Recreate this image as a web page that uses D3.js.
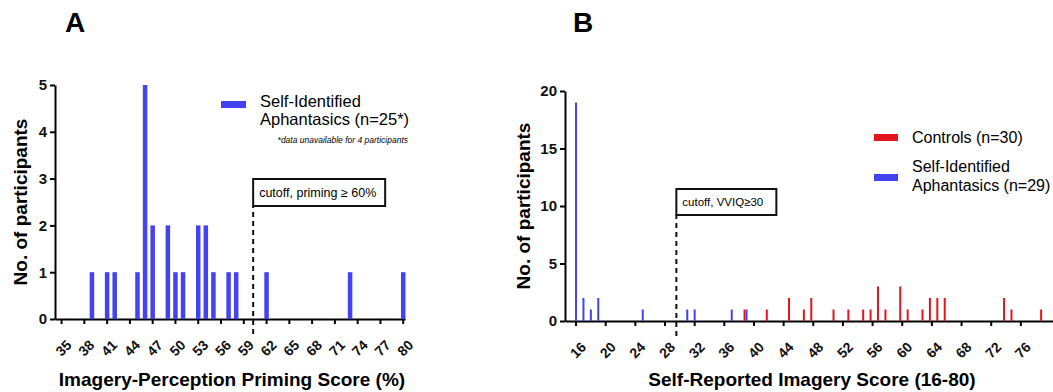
<!DOCTYPE html>
<html>
<head>
<meta charset="utf-8">
<script src="https://cdn.jsdelivr.net/npm/d3@7"></script>
<style>
  body { margin: 0; background: #fff; }
  svg { font-family: "Liberation Sans", Arial, sans-serif; }
</style>
</head>
<body>
<div class="figure"></div>
<script>
// panel A - priming score histogram
const primingScores = [39, 41, 42, 45, 46, 47, 49, 50, 51, 53, 54, 55, 57, 58, 62, 73, 80];
const primingCounts = [1, 1, 1, 1, 5, 2, 2, 1, 1, 2, 2, 1, 1, 1, 1, 1, 1];
const primingTicks = [35, 38, 41, 44, 47, 50, 53, 56, 59, 62, 65, 68, 71, 74, 77, 80];
const primingYTicks = [0, 1, 2, 3, 4, 5];
const primingCutoff = 60.3;

// panel B - VVIQ histogram
const controlScores = [39, 42, 45, 47, 48, 51, 53, 55, 56, 57, 58, 60, 61, 63, 64, 65, 66, 74, 75, 79];
const controlCounts = [1, 1, 2, 1, 2, 1, 1, 1, 1, 3, 1, 3, 1, 1, 2, 2, 2, 2, 1, 1];
const aphantasicScores = [16, 17, 18, 19, 25, 31, 32, 37, 39];
const aphantasicCounts = [19, 2, 1, 2, 1, 1, 1, 1, 1];
const vviqTicks = [16, 20, 24, 28, 32, 36, 40, 44, 48, 52, 56, 60, 64, 68, 72, 76];
const vviqYTicks = [0, 5, 10, 15, 20];
const vviqCutoff = 29.6;

const BLUE = '#4343f2';
const RED = '#e3161f';

const svg = d3.select('.figure')
  .append('svg')
  .attr('width', 1053)
  .attr('height', 392);

function zip(xs, ys) {
  return xs.map((x, i) => ({x: x, y: ys[i]}));
}

function styleXAxis(g) {
  g.select('.domain').attr('stroke-width', 2);
  g.selectAll('.tick line').attr('stroke-width', 2);
  g.selectAll('.tick text')
    .attr('x', 0)
    .attr('y', 0)
    .attr('dy', 0)
    .attr('text-anchor', 'end')
    .attr('transform', 'translate(11,27) rotate(-45)')
    .style('font-size', '14px')
    .style('font-weight', 'bold')
    .attr('fill', '#111');
}

function styleYAxis(g) {
  g.select('.domain').attr('stroke-width', 2);
  g.selectAll('.tick line').attr('stroke-width', 2);
  g.selectAll('.tick text')
    .style('font-size', '15px')
    .style('font-weight', 'bold')
    .attr('fill', '#111');
}

function drawPanel(opts) {
  const g = svg.append('g');

  g.append('g')
    .attr('transform', `translate(0,${opts.y.range()[0]})`)
    .call(d3.axisBottom(opts.x).tickValues(opts.xTicks).tickSize(5).tickSizeOuter(0).tickFormat(d3.format('d')))
    .call(styleXAxis);

  g.append('g')
    .attr('transform', `translate(${opts.x.range()[0]},0)`)
    .call(d3.axisLeft(opts.y).tickValues(opts.yTicks).tickSize(5).tickSizeOuter(0).tickPadding(3).tickFormat(d3.format('d')))
    .call(styleYAxis);

  // panel letter
  g.append('text')
    .attr('x', opts.letterX)
    .attr('y', 32)
    .style('font-size', '28px')
    .style('font-weight', 'bold')
    .text(opts.letter);

  g.append('text')
    .attr('text-anchor', 'middle')
    .attr('transform', `translate(${opts.yLabelX},${(opts.y.range()[0] + opts.y.range()[1]) / 2}) rotate(-90)`)
    .style('font-size', '19px')
    .style('font-weight', 'bold')
    .text('No. of participants');

  g.append('text')
    .attr('text-anchor', 'middle')
    .attr('x', opts.xLabelX)
    .attr('y', 386)
    .style('font-size', '19px')
    .style('font-weight', 'bold')
    .text(opts.xLabel);

  return g;
}

function drawBars(g, x, y, data, color, width, offset) {
  g.append('g')
    .selectAll('rect')
    .data(data)
    .join('rect')
    .attr('x', d => x(d.x) - width / 2 + offset)
    .attr('y', d => y(d.y))
    .attr('width', width)
    .attr('height', d => y(0) - y(d.y))
    .attr('fill', color);
}

function drawCutoff(g, x, y, value, boxTop, boxW, boxH, label, fontsize) {
  const cx = x(value);
  g.append('line')
    .attr('x1', cx).attr('x2', cx)
    .attr('y1', y(0) + 15).attr('y2', boxTop + boxH)
    .attr('stroke', '#111')
    .attr('stroke-width', 2)
    .attr('stroke-dasharray', '5,4');
  g.append('rect')
    .attr('x', cx)
    .attr('y', boxTop)
    .attr('width', boxW)
    .attr('height', boxH)
    .attr('fill', '#fff')
    .attr('stroke', '#111')
    .attr('stroke-width', 2);
  g.append('text')
    .attr('x', cx + 6)
    .attr('y', boxTop + boxH / 2 + fontsize * 0.36)
    .style('font-size', `${fontsize}px`)
    .text(label);
}

// ---- A ----
const xA = d3.scaleLinear().domain([34.2, 80.3]).range([55, 405]);
const yA = d3.scaleLinear().domain([0, 5]).range([319, 85]);
const panelA = drawPanel({
  x: xA, y: yA, xTicks: primingTicks, yTicks: primingYTicks,
  letter: 'A', letterX: 65, yLabelX: 27, xLabelX: 232,
  xLabel: 'Imagery-Perception Priming Score (%)'
});
drawBars(panelA, xA, yA, zip(primingScores, primingCounts), BLUE, 4.5, 0.5);
drawCutoff(panelA, xA, yA, primingCutoff, 179, 132, 27, 'cutoff, priming \u2265 60%', 12.5);

panelA.append('rect')
  .attr('x', 221).attr('y', 101).attr('width', 25).attr('height', 7)
  .attr('fill', BLUE);
panelA.append('text')
  .attr('x', 260).attr('y', 107)
  .style('font-size', '16.5px')
  .text('Self-Identified');
panelA.append('text')
  .attr('x', 260).attr('y', 125)
  .style('font-size', '16.5px')
  .text('Aphantasics (n=25*)');
panelA.append('text')
  .attr('x', 408).attr('y', 143)
  .attr('text-anchor', 'end')
  .style('font-size', '8.5px')
  .style('font-style', 'italic')
  .text('*data unavailable for 4 participants');

// ---- B ----
const xB = d3.scaleLinear().domain([14.58, 80.4]).range([565, 1053]);
const yB = d3.scaleLinear().domain([0, 20]).range([321, 91]);
const panelB = drawPanel({
  x: xB, y: yB, xTicks: vviqTicks, yTicks: vviqYTicks,
  letter: 'B', letterX: 573, yLabelX: 530, xLabelX: 812,
  xLabel: 'Self-Reported Imagery Score (16-80)'
});
drawBars(panelB, xB, yB, zip(controlScores, controlCounts), RED, 2, -1.5);
drawBars(panelB, xB, yB, zip(aphantasicScores, aphantasicCounts), BLUE, 2, 0.5);
drawCutoff(panelB, xB, yB, vviqCutoff, 189, 100, 26, 'cutoff, VVIQ\u226530', 11.5);

panelB.append('rect')
  .attr('x', 874).attr('y', 134).attr('width', 24).attr('height', 7)
  .attr('fill', RED);
panelB.append('text')
  .attr('x', 912).attr('y', 143)
  .style('font-size', '16px')
  .text('Controls (n=30)');
panelB.append('rect')
  .attr('x', 874).attr('y', 174).attr('width', 24).attr('height', 7)
  .attr('fill', BLUE);
panelB.append('text')
  .attr('x', 912).attr('y', 172)
  .style('font-size', '16px')
  .text('Self-Identified');
panelB.append('text')
  .attr('x', 912).attr('y', 191)
  .style('font-size', '16px')
  .text('Aphantasics (n=29)');
</script>
</body>
</html>
